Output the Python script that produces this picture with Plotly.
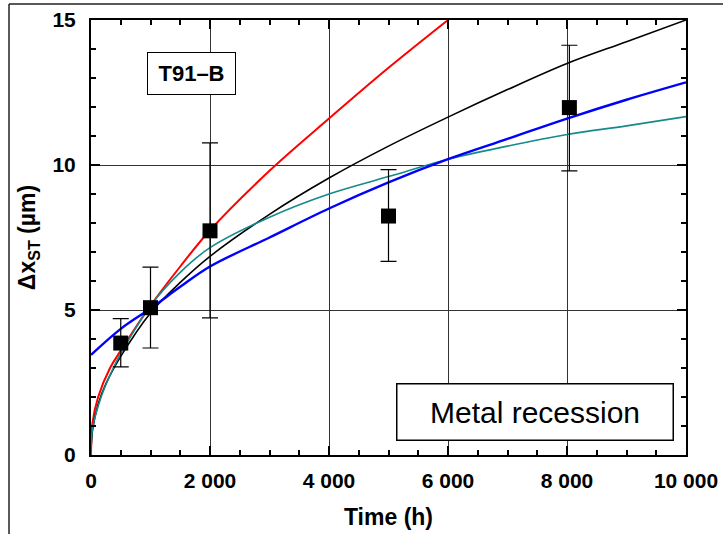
import plotly.graph_objects as go

# Measured data (squares with error bars)
t_pts = [500, 1000, 2000, 5000, 8040]
dx_pts = [3.86, 5.08, 7.73, 8.24, 11.98]
err_hi = [4.70, 6.48, 10.76, 9.84, 14.13]
err_lo = [3.04, 3.69, 4.73, 6.68, 9.80]

# Fitted curves
t_red = [0, 25, 120, 320, 500, 1000, 1500, 2000, 3000, 4000, 5000, 6000]
y_red = [0, 1.1, 2.0, 3.0, 3.6, 5.15, 6.5, 7.75, 9.8, 11.6, 13.35, 15.0]

t_black = [0, 25, 120, 250, 500, 1000, 1500, 2000, 3000, 4000, 5000, 6000, 7000, 8000, 9000, 10000]
y_black = [0, 0.85, 1.75, 2.45, 3.4, 4.9, 5.95, 6.85, 8.3, 9.55, 10.65, 11.65, 12.6, 13.5, 14.25, 15.0]

t_blue = [0, 500, 1000, 1500, 2000, 3000, 4000, 5000, 6000, 7000, 8000, 9000, 10000]
y_blue = [3.45, 4.35, 5.05, 5.8, 6.5, 7.5, 8.5, 9.4, 10.2, 10.9, 11.6, 12.25, 12.85]

t_teal = [0, 25, 170, 375, 500, 1000, 1500, 2000, 3000, 4000, 5000, 6000, 7000, 8000, 9000, 10000]
y_teal = [0, 0.9, 2.0, 3.0, 3.5, 5.15, 6.3, 7.15, 8.2, 9.0, 9.6, 10.2, 10.65, 11.05, 11.35, 11.67]

x_tickvals = [0, 2000, 4000, 6000, 8000, 10000]
x_ticktext = ["0", "2 000", "4 000", "6 000", "8 000", "10 000"]
y_tickvals = [0, 5, 10, 15]
y_ticktext = ["0", "5", "10", "15"]

FONT = "Liberation Sans, Arial, sans-serif"

fig = go.Figure()
fig.add_trace(go.Scatter(x=t_red, y=y_red, mode="lines", line=dict(color="#ff0000", width=2, shape="spline"), showlegend=False))
fig.add_trace(go.Scatter(x=t_black, y=y_black, mode="lines", line=dict(color="#000000", width=1.6, shape="spline"), showlegend=False))
fig.add_trace(go.Scatter(x=t_teal, y=y_teal, mode="lines", line=dict(color="#158a8a", width=1.6, shape="spline"), showlegend=False))
fig.add_trace(go.Scatter(x=t_blue, y=y_blue, mode="lines", line=dict(color="#0000ff", width=2.4, shape="spline"), showlegend=False))

fig.add_trace(go.Scatter(
    x=t_pts, y=dx_pts, mode="markers",
    marker=dict(symbol="square", size=15, color="black"),
    error_y=dict(type="data", symmetric=False,
                 array=[h - v for h, v in zip(err_hi, dx_pts)],
                 arrayminus=[v - l for l, v in zip(err_lo, dx_pts)],
                 color="black", thickness=1.2, width=8),
    showlegend=False, cliponaxis=False))

axis_common = dict(
    showline=True, linecolor="black", linewidth=2, mirror="ticks",
    ticks="inside", ticklen=9, tickwidth=1.5, tickcolor="black",
    showgrid=True, gridcolor="#333333", gridwidth=1.2, zeroline=False,
    automargin=False,
    tickfont=dict(family=FONT, size=21, color="black", weight="bold"),
)

fig.update_xaxes(range=[0, 10000], tickvals=x_tickvals, ticktext=x_ticktext, ticklabelstandoff=6,
                 minor=dict(dtick=500, ticks="inside", ticklen=5, tickwidth=1.5, tickcolor="black", showgrid=False),
                 title=dict(text="<b>Time (h)</b>", font=dict(family=FONT, size=23, color="black"), standoff=18),
                 **axis_common)
fig.update_yaxes(range=[0, 15], tickvals=y_tickvals, ticktext=y_ticktext, ticklabelstandoff=9,
                 minor=dict(dtick=1, ticks="inside", ticklen=5, tickwidth=1.5, tickcolor="black", showgrid=False),
                 title=dict(text="<b>Δx<sub>ST</sub> (µm)</b>", font=dict(family=FONT, size=23, color="black"), standoff=10),
                 **axis_common)

fig.add_annotation(x=1689, y=13.17, xref="x", yref="y", text="<b>T91–B</b>", showarrow=False,
                   font=dict(family=FONT, size=22, color="black"), bgcolor="white",
                   bordercolor="black", borderwidth=1, borderpad=0, width=87, height=41)
fig.add_annotation(x=7462, y=1.48, xref="x", yref="y", text="Metal recession", showarrow=False,
                   font=dict(family=FONT, size=30, color="black"), bgcolor="white",
                   bordercolor="black", borderwidth=1.5, borderpad=0, width=275, height=55)

# outer frame of the figure
fig.add_shape(type="line", xref="paper", yref="paper", x0=-0.1378, x1=1.2, y0=1.0368, y1=1.0368,
              line=dict(color="#222222", width=1.5))
fig.add_shape(type="line", xref="paper", yref="paper", x0=-0.1378, x1=-0.1378, y0=-0.3, y1=1.0368,
              line=dict(color="#222222", width=1.5))

fig.update_layout(
    width=723, height=534,
    margin=dict(l=91, r=37, t=20, b=79),
    paper_bgcolor="white", plot_bgcolor="white",
    font=dict(family=FONT, color="black"),
)

fig.write_html("out.html")
